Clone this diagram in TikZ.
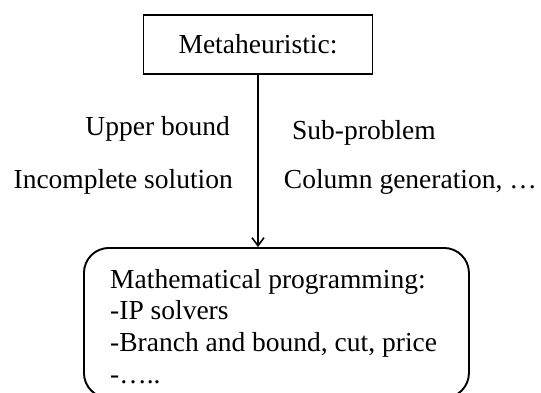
\documentclass[tikz,border=0pt]{standalone}
\usepackage{fontspec}
\setmainfont{Liberation Serif}
\usetikzlibrary{arrows.meta}
\begin{document}
\begin{tikzpicture}[x=1pt,y=-1pt,
  every node/.style={font=\fontsize{27.5}{31.6}\selectfont, inner sep=0pt},
  boxline/.style={draw, line width=1.9pt},
  lbl/.style={}]
\useasboundingbox (0,0) rectangle (541,392);
\node (meta) [boxline, minimum width=229pt, minimum height=59pt] at (258,44.5) {Metaheuristic:};
\node (mpbox) [boxline, rounded corners=25pt, minimum width=385pt, minimum height=150pt, anchor=north west] at (83,247) {};
\node (mptext) [anchor=north west, align=left] at (110,269) {Mathematical programming:\\-IP solvers\\-Branch and bound, cut, price\\-…..};
\draw[line width=1.9pt, -{Straight Barb[length=8pt,width=12pt,line width=1.6pt]}] (meta.south) -- (meta.south |- mpbox.north);
\node (ub) [lbl, anchor=base east] at (230,135) {Upper bound};
\node (is) [lbl, anchor=base east] at (233,188) {Incomplete solution};
\node (sp) [lbl, anchor=base west] at (292,139) {Sub-problem};
\node (cg) [lbl, anchor=base east] at (537,188) {Column generation, …};
\end{tikzpicture}
\end{document}
